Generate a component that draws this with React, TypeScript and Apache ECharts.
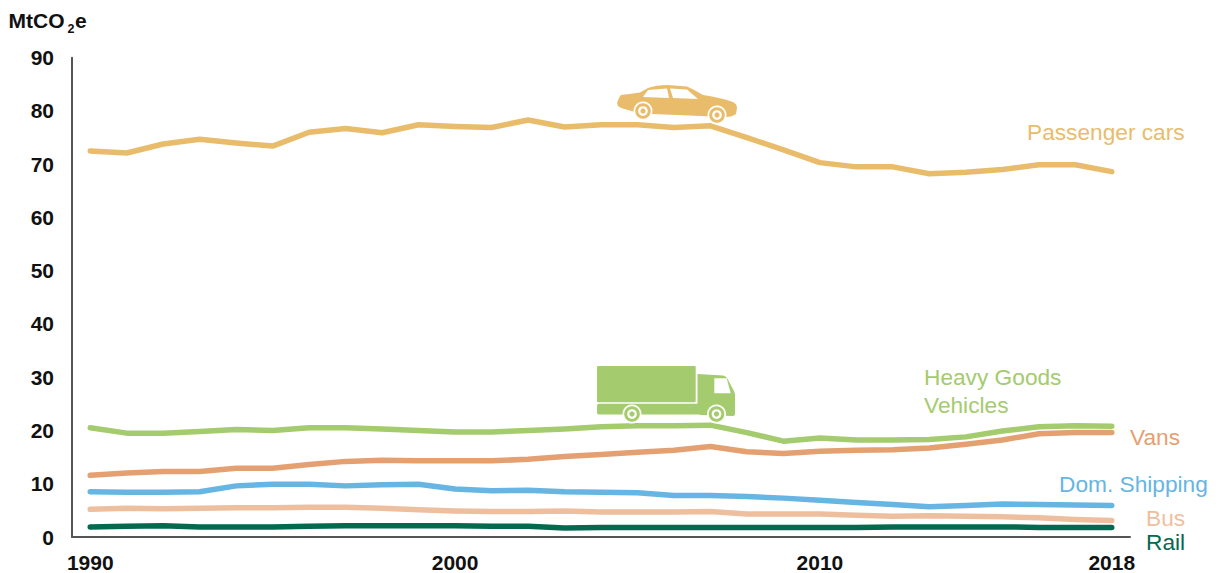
import React, { useEffect, useRef } from "react";
import * as echarts from "echarts";

const years = Array.from({ length: 29 }, (_, i) => String(1990 + i));
const yearLabels = ["1990", "2000", "2010", "2018"];
const yTicks = { min: 0, max: 90, interval: 10 };

const passengerCars = [72.5, 72.1, 73.8, 74.7, 74.0, 73.4, 76.0, 76.7, 75.9, 77.4, 77.1, 76.9, 78.3, 77.0, 77.4, 77.4, 76.9, 77.2, 75.0, 72.7, 70.3, 69.5, 69.5, 68.2, 68.5, 69.0, 69.9, 69.9, 68.6];
const heavyGoods = [20.5, 19.5, 19.5, 19.8, 20.2, 20.0, 20.5, 20.5, 20.3, 20.0, 19.7, 19.7, 20.0, 20.3, 20.7, 20.9, 20.9, 21.0, 19.6, 18.0, 18.6, 18.2, 18.2, 18.3, 18.8, 19.9, 20.7, 20.9, 20.8];
const vans = [11.6, 12.0, 12.3, 12.3, 12.9, 12.9, 13.6, 14.2, 14.4, 14.3, 14.3, 14.3, 14.6, 15.1, 15.5, 15.9, 16.3, 17.0, 16.0, 15.7, 16.1, 16.3, 16.4, 16.7, 17.4, 18.2, 19.4, 19.6, 19.6];
const domShipping = [8.5, 8.4, 8.4, 8.5, 9.6, 9.9, 9.9, 9.6, 9.8, 9.9, 9.0, 8.7, 8.8, 8.5, 8.4, 8.3, 7.8, 7.8, 7.6, 7.3, 6.9, 6.5, 6.1, 5.7, 5.9, 6.2, 6.1, 6.0, 5.9];
const bus = [5.2, 5.4, 5.3, 5.4, 5.5, 5.5, 5.6, 5.6, 5.4, 5.1, 4.9, 4.8, 4.8, 4.9, 4.7, 4.7, 4.7, 4.8, 4.3, 4.3, 4.3, 4.1, 3.9, 4.0, 3.9, 3.8, 3.6, 3.3, 3.1];
const rail = [1.9, 2.0, 2.1, 1.9, 1.9, 1.9, 2.0, 2.1, 2.1, 2.1, 2.1, 2.0, 2.0, 1.7, 1.8, 1.8, 1.8, 1.8, 1.8, 1.8, 1.8, 1.8, 1.9, 1.9, 1.9, 1.9, 1.8, 1.8, 1.8];

const C = { car: "#E9BC6C", hgv: "#A4CB6E", van: "#E5A072", ship: "#67B5E2", bus: "#EEBF9F", rail: "#046A4F" };
const FONT = "'Liberation Sans', Arial, sans-serif";

echarts.graphic.registerShape(
  "carBody",
  echarts.graphic.extendPath(
    "M617 103 Q619 97 621 95 Q632 93.5 640 92.5 L648 88 Q656 85 668 85 L687 86.5 Q695 90 703 95 Q722 98 733 102 Q737 104 737 108 L736 114 Q732 117 726 117 L640 113.5 L628 110 Q620 108 618 106 Z",
    {}
  )
);
echarts.graphic.registerShape(
  "truckCab",
  echarts.graphic.extendPath(
    "M697.5 374 L723 375.5 Q726 376 727 378 L734 391 Q735 393 735 395 L735 414 Q735 416 733 416 L700 415 L700 414.5 L599 414.5 Q597 414.5 597 412.5 L597 405.5 Q597 403.7 599 403.7 L697.5 403.7 Z",
    {}
  )
);

const wheel = (cx: number, cy: number, color: string) => [
  { type: "circle", z: 20, shape: { cx, cy, r: 9.5 }, style: { fill: "#fff" } },
  { type: "circle", z: 21, shape: { cx, cy, r: 7.8 }, style: { fill: color } },
  { type: "circle", z: 22, shape: { cx, cy, r: 4.8 }, style: { fill: "#fff" } },
  { type: "circle", z: 23, shape: { cx, cy, r: 2.6 }, style: { fill: color } },
];

const label = (text: string, x: number, y: number, fill: string) => ({
  type: "text",
  z: 30,
  x,
  y,
  style: { text, fill, font: `22.7px ${FONT}`, textAlign: "left", textVerticalAlign: "middle" },
});

const line = (name: string, data: number[], color: string) => ({
  name,
  type: "line",
  data,
  showSymbol: false,
  smooth: false,
  lineStyle: { color, width: 5.5, cap: "round", join: "round" },
  itemStyle: { color },
});

export default function App() {
  const ref = useRef<HTMLDivElement>(null);
  useEffect(() => {
    const chart = echarts.init(ref.current!, null, { renderer: "svg" });
    chart.setOption({
      animation: false,
      backgroundColor: "#fff",
      grid: { left: 72, top: 57.7, width: 1058, height: 480, containLabel: false },
      xAxis: {
        type: "category",
        data: years,
        boundaryGap: true,
        axisLine: { lineStyle: { color: "#555", width: 2 } },
        axisTick: { show: false },
        axisLabel: {
          interval: (_: number, v: string) => yearLabels.includes(v),
          color: "#111",
          fontFamily: FONT,
          fontWeight: "bold",
          fontSize: 21,
          margin: 15,
        },
      },
      yAxis: {
        type: "value",
        ...yTicks,
        splitLine: { show: false },
        axisTick: { show: false },
        axisLine: { show: true, lineStyle: { color: "#555", width: 2 } },
        axisLabel: { color: "#111", fontFamily: FONT, fontWeight: "bold", fontSize: 21, margin: 18 },
      },
      series: [
        line("Passenger cars", passengerCars, C.car),
        line("Heavy Goods Vehicles", heavyGoods, C.hgv),
        line("Vans", vans, C.van),
        line("Dom. Shipping", domShipping, C.ship),
        line("Bus", bus, C.bus),
        line("Rail", rail, C.rail),
      ],
      graphic: [
        { type: "text", z: 30, x: 8.5, y: 20, style: { text: "MtCO", fill: "#111", font: `bold 21px ${FONT}`, textVerticalAlign: "middle" } },
        { type: "text", z: 30, x: 67.5, y: 29, style: { text: "2", fill: "#111", font: `bold 12.5px ${FONT}`, textVerticalAlign: "middle" } },
        { type: "text", z: 30, x: 75, y: 20, style: { text: "e", fill: "#111", font: `bold 21px ${FONT}`, textVerticalAlign: "middle" } },
        label("Passenger cars", 1027, 132, C.car),
        label("Heavy Goods", 924, 377, C.hgv),
        label("Vehicles", 924, 405, C.hgv),
        label("Vans", 1130, 437, C.van),
        label("Dom. Shipping", 1059, 484, C.ship),
        label("Bus", 1146, 518, C.bus),
        label("Rail", 1146, 542, C.rail),
        { type: "carBody", z: 15, style: { fill: C.car } },
        { type: "polygon", z: 16, shape: { points: [[643, 97], [648, 90], [667, 88.5], [669, 98]] }, style: { fill: "#fff" } },
        { type: "polygon", z: 16, shape: { points: [[670, 88.5], [687, 89.5], [698, 99], [673, 98]] }, style: { fill: "#fff" } },
        ...wheel(643, 111, C.car),
        ...wheel(717, 115, C.car),
        { type: "rect", z: 15, shape: { x: 597, y: 366, width: 98.7, height: 36.3, r: 1 }, style: { fill: C.hgv } },
        { type: "truckCab", z: 15, style: { fill: C.hgv } },
        { type: "polygon", z: 16, shape: { points: [[714.3, 378.3], [726.7, 378.3], [730.7, 393.3], [714.3, 393.3]] }, style: { fill: "#fff" } },
        ...wheel(632, 414, C.hgv),
        ...wheel(716.5, 414, C.hgv),
      ],
    });
    return () => chart.dispose();
  }, []);
  return <div ref={ref} style={{ position: "absolute", left: 0, top: 0, width: 1220, height: 573 }} />;
}
